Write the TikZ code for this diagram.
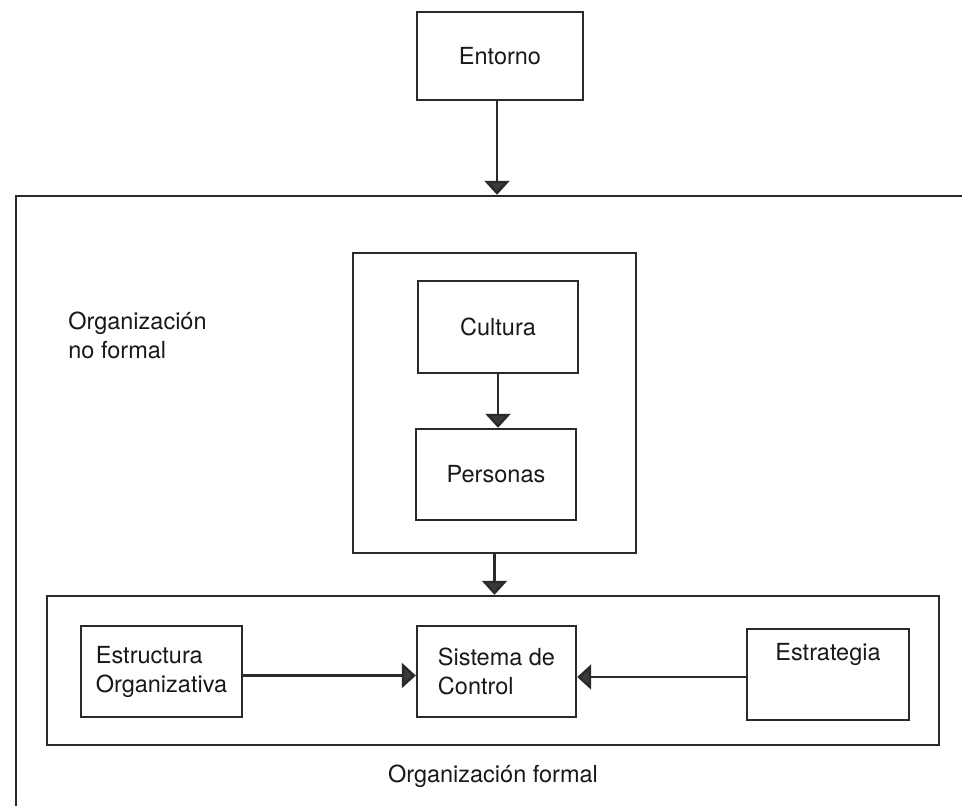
\documentclass[tikz,border=0pt]{standalone}
\usepackage{fontspec}
\setmainfont{TeX Gyre Heros}
\usetikzlibrary{arrows.meta}
\definecolor{linec}{HTML}{2A2A2A}
\definecolor{tipc}{HTML}{3A3A3A}
\begin{document}
\begin{tikzpicture}[x=0.5pt,y=-0.5pt,
  every node/.style={font=\fontsize{11.75pt}{14.5pt}\selectfont, text=black!90},
  box/.style={draw=linec, line width=1.2pt, inner sep=0pt, align=center},
  conn/.style={draw=linec, line width=1.2pt, -{Triangle[length=7pt,width=12.5pt,fill=tipc]}},
  lbl/.style={inner sep=0pt, align=left}]
\useasboundingbox (0,0) rectangle (962,806);
\fill[white] (0,0) rectangle (962,806);
\begin{scope}
\clip (0,0) rectangle (962,806);
\node[box, minimum width=492pt, minimum height=352pt] (outer) at (508,548) {};
\end{scope}
\node[box, minimum width=83pt, minimum height=44pt, fill=white] (env) at (500,56) {Entorno};
\node[box, minimum width=141.5pt, minimum height=150pt] (nf) at (494.5,403) {};
\node[box, minimum width=80pt, minimum height=46pt] (cult) at (498,327) {Cultura};
\node[box, minimum width=80pt, minimum height=45.5pt] (pers) at (496,474.5) {Personas};
\node[lbl, anchor=west] (nflbl) at (68,335) {Organización\\no formal};
\node[box, minimum width=446pt, minimum height=74.5pt] (formal) at (493,670.5) {};
\node[box, minimum width=80.5pt, minimum height=45.5pt, align=left] (estr) at (161.5,671.5) {Estructura\\Organizativa};
\node[box, minimum width=79.5pt, minimum height=45.5pt, align=left] (sist) at (496.5,671.5) {Sistema de\\Control};
\node[box, minimum width=81pt, minimum height=45.5pt, text height=9pt, text depth=23.5pt] (strat) at (828,674.5) {Estrategia};
\node[lbl] (formlbl) at (493,776) {Organización formal};
\draw[conn] ([xshift=-1.5pt]env.south) -- ([xshift=-1.5pt]env.south |- outer.north);
\draw[conn] (cult.south) -- (cult.south |- pers.north);
\draw[conn] (nf.south) -- (nf.south |- formal.north);
\draw[conn] ([yshift=-2pt]estr.east) -- ([yshift=-2pt]estr.east -| sist.west);
\draw[conn] ([yshift=-1.25pt]strat.west) -- ([yshift=-1.25pt]strat.west -| sist.east);
\end{tikzpicture}
\end{document}
